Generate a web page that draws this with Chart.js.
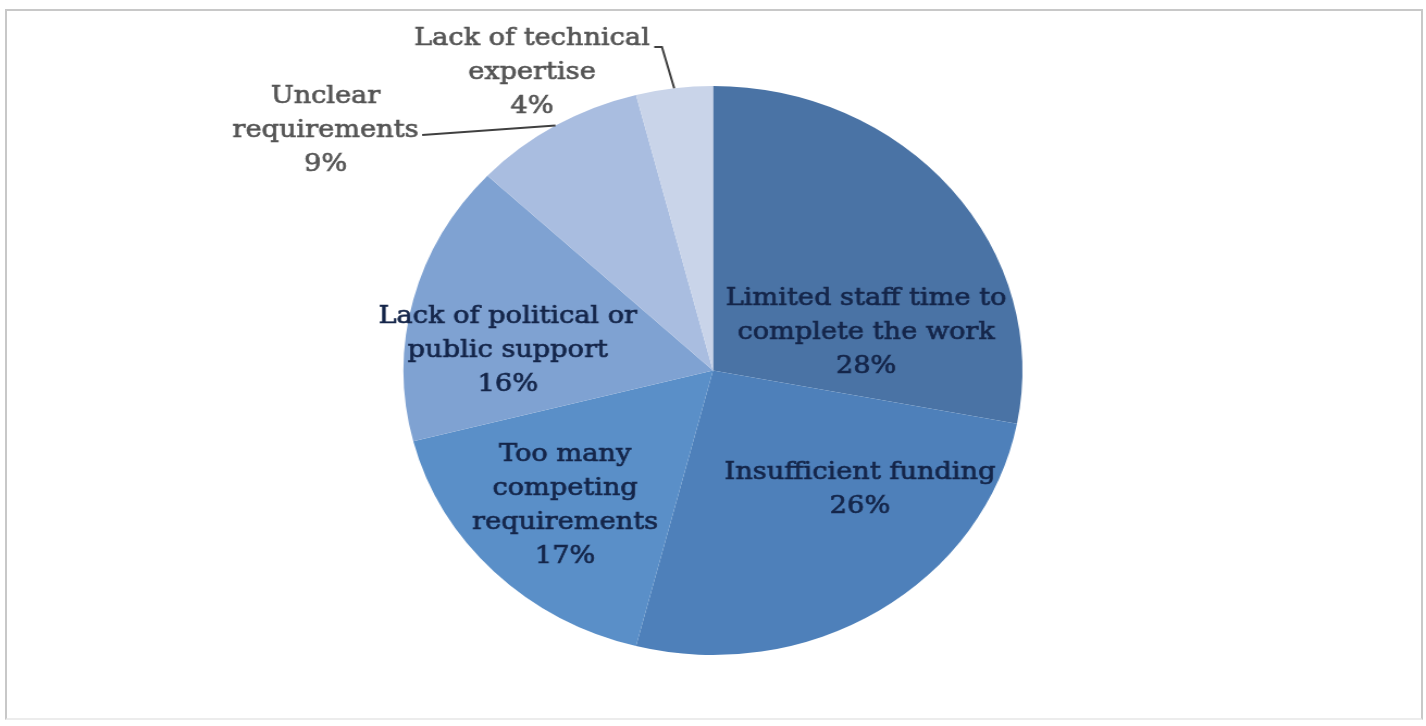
<!DOCTYPE html>
<html><head><meta charset="utf-8">
<script src="https://cdn.jsdelivr.net/npm/chart.js@4"></script>
<style>
html,body{margin:0;padding:0;background:#fff;overflow:hidden}
#frame{position:absolute;left:5px;top:9px;width:1418px;height:711px;border:2px solid #c8c8c8;border-bottom-color:#ececec;box-sizing:border-box}
#wrap{position:absolute;left:0;top:0;width:1311px;height:726px;transform:scaleX(1.0877);transform-origin:0 0}
</style></head><body>
<div id="frame"></div>
<div id="wrap"><canvas id="c" width="1311" height="726"></canvas></div>
<script>
// ---- data ----
const categories = [
  "Limited staff time to complete the work",
  "Insufficient funding",
  "Too many competing requirements",
  "Lack of political or public support",
  "Unclear requirements",
  "Lack of technical expertise"
];
const labelLines = [
  ["Limited staff time to", "complete the work"],
  ["Insufficient funding"],
  ["Too many", "competing", "requirements"],
  ["Lack of political or", "public support"],
  ["Unclear", "requirements"],
  ["Lack of technical", "expertise"]
];
const percentages = [28, 26, 17, 16, 9, 4];

// ---- styling / layout (kept apart from data) ----
const sliceColors = ["#4a73a5", "#4e80ba", "#5a8fc8", "#7fa2d2", "#a9bde0", "#c9d4e9"];
const textColors = ["#15264a", "#15264a", "#15264a", "#15264a", "#555555", "#555555"];
// label centre relative to pie centre, in units of the radius
const labelPos = [[0.495, -0.132], [0.475, 0.42], [-0.478, 0.473], [-0.663, -0.072], [-1.252, -0.845], [-0.585, -1.049]];
// leader line points (relative, radius units) ending at the slice's outer mid point
const leaders = [null, null, null, null, [[-0.94, -0.828]], [[-0.19, -1.137], [-0.165, -1.137]]];
const FONT = "25px 'DejaVu Serif'";
const LINE_H = 34;

const labelPlugin = {
  id: 'sliceLabels',
  afterDatasetsDraw(chart) {
    const ctx = chart.ctx;
    const meta = chart.getDatasetMeta(0);
    meta.data.forEach((arc, i) => {
      const p = arc.getProps(['x', 'y', 'outerRadius', 'startAngle', 'endAngle'], true);
      const r = p.outerRadius;
      ctx.save();
      if (leaders[i]) {
        const mid = (p.startAngle + p.endAngle) / 2;
        ctx.beginPath();
        leaders[i].forEach((pt, k) => {
          const px = p.x + pt[0] * r, py = p.y + pt[1] * r;
          if (k === 0) ctx.moveTo(px, py); else ctx.lineTo(px, py);
        });
        ctx.lineTo(p.x + Math.cos(mid) * r, p.y + Math.sin(mid) * r);
        ctx.strokeStyle = "#404040";
        ctx.lineWidth = 2;
        ctx.stroke();
      }
      const lx = p.x + labelPos[i][0] * r, ly = p.y + labelPos[i][1] * r;
      const lines = [...labelLines[i], percentages[i] + "%"];
      ctx.font = FONT;
      ctx.fillStyle = textColors[i];
      ctx.strokeStyle = textColors[i];
      ctx.lineWidth = 0.7;
      ctx.textAlign = "center";
      ctx.textBaseline = "middle";
      lines.forEach((t, k) => {
        const ty = ly + (k - (lines.length - 1) / 2) * LINE_H;
        ctx.fillText(t, lx, ty);
        ctx.strokeText(t, lx, ty);
      });
      ctx.restore();
    });
  }
};

new Chart(document.getElementById('c'), {
  type: 'pie',
  data: {
    labels: categories,
    datasets: [{ data: percentages, backgroundColor: sliceColors, borderWidth: 0 }]
  },
  options: {
    responsive: false,
    animation: false,
    layout: { padding: { top: 86, bottom: 71, left: 0, right: 0 } },
    plugins: { legend: { display: false }, tooltip: { enabled: false } }
  },
  plugins: [labelPlugin]
});
</script>
</body></html>
